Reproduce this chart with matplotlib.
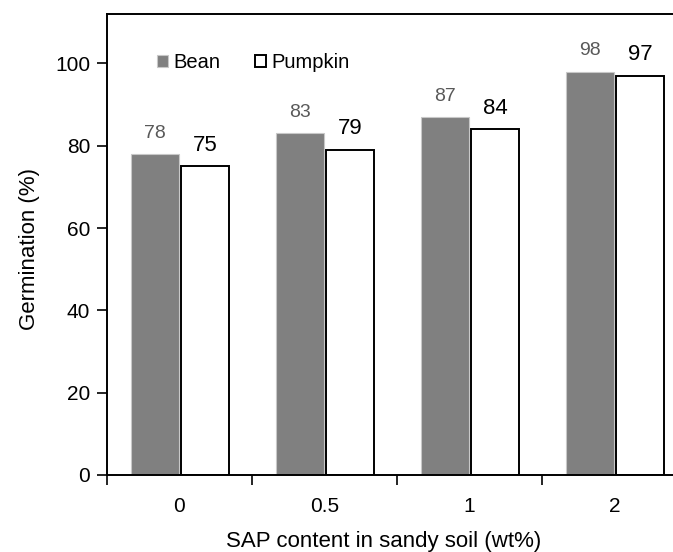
import matplotlib
matplotlib.use("Agg")
import matplotlib.pyplot as plt
import numpy as np

plt.rcParams["font.family"] = ["Liberation Sans", "DejaVu Sans"]

# data
sap_content = ["0", "0.5", "1", "2"]
bean = [78, 83, 87, 98]
pumpkin = [75, 79, 84, 97]

x = np.arange(len(sap_content))
bar_w = 0.33

fig = plt.figure(figsize=(6.73, 5.52), dpi=100)
# axes run a little past the right edge of the figure, like the reference crop
ax = fig.add_axes([107 / 673, 77 / 552, 580 / 673, 461 / 552])

bean_bars = ax.bar(x - 0.168, bean, bar_w, color="#808080", edgecolor="#c8c8c8",
                   linewidth=0.8, label="Bean")
pump_bars = ax.bar(x + 0.176, pumpkin, bar_w, color="white", edgecolor="black",
                   linewidth=1.4, label="Pumpkin")

for rect, v in zip(bean_bars, bean):
    ax.annotate(str(v), (rect.get_x() + rect.get_width() / 2, v),
                xytext=(0, 15), textcoords="offset points",
                ha="center", va="center", fontsize=14, color="#595959")
for rect, v in zip(pump_bars, pumpkin):
    ax.annotate(str(v), (rect.get_x() + rect.get_width() / 2, v),
                xytext=(0, 15), textcoords="offset points",
                ha="center", va="center", fontsize=16, color="black")

ax.set_xlim(-0.5, 3.5)
ax.set_ylim(0, 112)
ax.set_yticks([0, 20, 40, 60, 80, 100])
ax.set_xticks(x)
ax.set_xticklabels(sap_content)
ax.set_xticks(np.arange(-0.5, 4, 1), minor=True)
ax.tick_params(axis="x", which="major", length=0, pad=16, labelsize=15)
ax.tick_params(axis="x", which="minor", length=7, width=1.2, direction="out")
ax.tick_params(axis="y", length=7, width=1.2, direction="out", labelsize=15, pad=5)

for s in ax.spines.values():
    s.set_linewidth(1.4)

ax.set_xlabel("SAP content in sandy soil (wt%)", fontsize=16)
ax.xaxis.set_label_coords(0.477, -0.122)
ax.set_ylabel("Germination (%)", fontsize=16)
ax.yaxis.set_label_coords(-0.115, 0.49)

ax.legend(loc="upper left", bbox_to_anchor=(0.055, 0.955), ncol=2, frameon=False,
          fontsize=14.5, handlelength=0.55, handleheight=0.55, handletextpad=0.25,
          columnspacing=1.75)

fig.savefig("out.png", dpi=100)
